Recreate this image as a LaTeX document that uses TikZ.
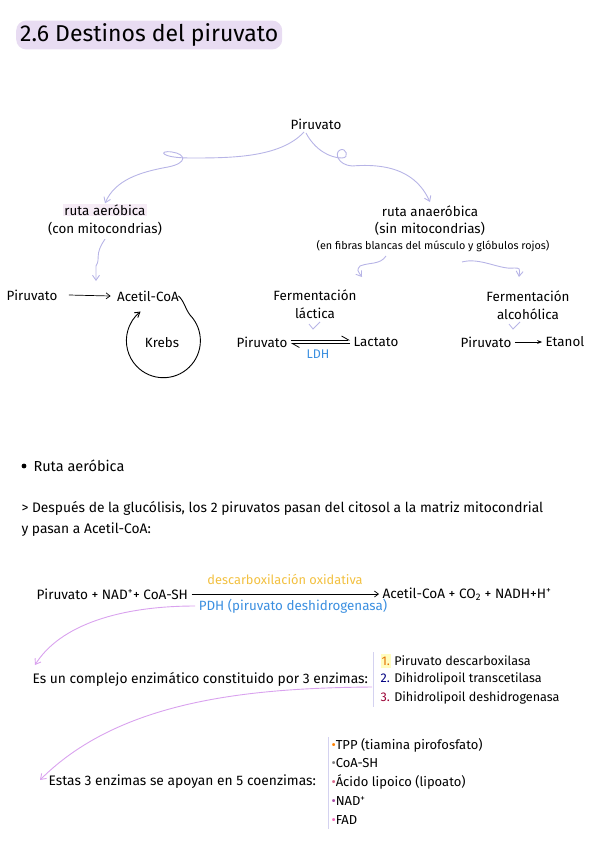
\documentclass[tikz,border=0pt]{standalone}
\usepackage{fontspec}
\setmainfont{Fira Sans}
\usetikzlibrary{arrows.meta}
\definecolor{lav}{HTML}{B7B4E6}
\definecolor{pinkv}{HTML}{D9A2EE}
\definecolor{titlebg}{HTML}{E8DCF2}
\definecolor{hlpink}{HTML}{F6ECF6}
\definecolor{ldhblue}{HTML}{3B8FE0}
\definecolor{descor}{HTML}{F2C040}
\newcommand{\fsz}[1]{\fontsize{#1}{#1}\selectfont}

\begin{document}
\begin{tikzpicture}[x=1pt,y=-1pt,
  lavarrow/.style={lav,line width=0.9pt,-{Straight Barb[length=5pt,width=7pt]}},
  pinkarrow/.style={pinkv,line width=0.9pt,-{Straight Barb[length=5pt,width=7pt]}},
  txt/.style={font=\fsz{13.4}},
  body/.style={font=\fsz{13.8},anchor=west}]
\useasboundingbox (0,0) rectangle (599,848);
% titulo
\node[fill=titlebg,rounded corners=10pt,inner xsep=4pt,inner ysep=3pt,anchor=west,font=\fsz{23}] (title) at (16,35) {2.6 Destinos del piruvato};
% esquema superior
\node[txt] (piru) at (316,124) {Piruvato};
\node[txt,fill=hlpink,inner sep=1pt] (aer) at (105,210) {ruta aeróbica};
\node[txt] (aercon) at (105,229) {(con mitocondrias)};
\node[txt] (anaer) at (430,211) {ruta anaeróbica};
\node[txt] (anaersin) at (430,229) {(sin mitocondrias)};
\node[font=\fsz{10.8}] (fibras) at (433,246) {(en fibras blancas del músculo y glóbulos rojos)};
\draw[lavarrow] (304,132) .. controls (280,158) and (230,158) .. (190,158) .. controls (160,158) and (158,150) .. (172,152) .. controls (186,154) and (188,163) .. (168,167) .. controls (140,172) and (115,180) .. (aer.north);
\draw[lavarrow] (306,133) .. controls (315,150) and (330,158) .. (342,158) .. controls (350,158) and (346,147) .. (340,150) .. controls (334,153) and (338,165) .. (352,166) .. controls (400,162) and (420,180) .. (anaer.north);
% ruta aerobica
\node[txt] (p1) at (32,295) {Piruvato};
\node[txt] (acetil) at (148,296) {Acetil-CoA};
\node[txt] (krebs) at (162,343) {Krebs};
\coordinate (aerend) at (96,281);
\coordinate (krebsin) at (190,315);
\draw[lavarrow] (aercon.south) .. controls (94,255) and (101,258) .. (96,266) -- (aerend);
\draw[-{Straight Barb[length=4pt,width=6pt]},line width=0.7pt] (p1.east) ++(8,0) -- ([xshift=-3pt]acetil.west);
\draw[line width=0.9pt,-{Straight Barb[length=5pt,width=6pt]}] ([xshift=-4pt]acetil.east) .. controls (183,299) and (186,310) .. (krebsin) arc[start angle=-44,end angle=232,radius=37];
% ruta anaerobica
\node[txt,align=center] (ferml) at (315,304) {Fermentación\\[5pt]láctica};
\node[txt,align=center] (ferma) at (528,305) {Fermentación\\[5pt]alcohólica};
\coordinate (lacend) at (362,277);
\coordinate (alcend) at (519,277);
\draw[lavarrow] (386,256) .. controls (380,265) and (370,262) .. (360,266) .. controls (357,270) .. (lacend);
\draw[lavarrow] (462,262) .. controls (480,257) and (500,270) .. (514,268) .. controls (520,268) .. (alcend);
\draw[lav,line width=0.8pt] (309,324) -- (313,329) -- (320,322);
\draw[lav,line width=0.8pt] (509,324) -- (513,329) -- (520,322);
\node[txt] (p2) at (262,342) {Piruvato};
\node[txt] (lactato) at (376,342) {Lactato};
\node[font=\fsz{12.5},text=ldhblue] (ldh) at (318,354) {LDH};
\draw[line width=0.8pt,-{Straight Barb[left,length=7pt,width=8pt]}] ([yshift=2pt]p2.east) -- ([yshift=2pt]lactato.west);
\draw[line width=0.8pt,-{Straight Barb[left,length=7pt,width=8pt]}] ([yshift=-1.5pt]lactato.west) -- ([yshift=-1.5pt]p2.east);
\node[txt] (p3) at (486,342) {Piruvato};
\node[txt] (etanol) at (565,342) {Etanol};
\draw[line width=0.7pt,-{Stealth[length=5pt]}] (p3.east) -- (etanol.west);
% parte inferior
\fill (24,466) circle (2.4pt);
\node[body,font=\fsz{14.5}] (ruta) at (30,466) {Ruta aeróbica};
\node[body] (despues) at (18,508) {> Después de la glucólisis, los 2 piruvatos pasan del citosol a la matriz mitocondrial};
\node[body] (ypasan) at (18,530) {y pasan a Acetil-CoA:};
\node[body,font=\fsz{13.6}] (react) at (33,594) {Piruvato + NAD\textsuperscript{+}+ CoA-SH};
\node[body,font=\fsz{13.6}] (prod) at (379,594) {Acetil-CoA + CO\textsubscript{2} + NADH+H\textsuperscript{+}};
\draw[line width=0.7pt,-{Straight Barb[length=4pt,width=6pt]}] (react.east) -- (prod.west);
\node[font=\fsz{12.8},text=descor] (desc) at (285,579) {descarboxilación oxidativa};
\node[font=\fsz{13.4},text=ldhblue] (pdh) at (293,606) {PDH (piruvato deshidrogenasa)};
\node[body] (complejo) at (29,679) {Es un complejo enzimático constituido por 3 enzimas:};
\node[body,font=\fsz{12.6}] (enz1) at (377,661) {\colorbox{yellow!25}{\kern-2pt\textcolor{orange!90!black}{1.}\kern-2pt} Piruvato descarboxilasa};
\node[body,font=\fsz{12.6}] (enz2) at (377,679) {\textcolor{blue!50!black}{2.} Dihidrolipoil transcetilasa};
\node[body,font=\fsz{12.6}] (enz3) at (377,698) {\textcolor{purple!80!black}{3.} Dihidrolipoil deshidrogenasa};
\draw[pinkarrow] (pdh.west) .. controls (120,606) and (60,625) .. (35,665);
\draw[lav!60,line width=0.8pt] (373,652) -- (373,707);
\node[body] (estas) at (45,782) {Estas 3 enzimas se apoyan en 5 coenzimas:};
\draw[pinkarrow] (372,687) .. controls (250,688) and (120,700) .. (40,780);
\draw[lav!60,line width=0.8pt] (328,737) -- (328,829);
\node[body,font=\fsz{13}] (co1) at (328,745) {\textcolor{orange}{•}TPP (tiamina pirofosfato)};
\node[body,font=\fsz{13}] (co2) at (328,763) {\textcolor{gray}{•}CoA-SH};
\node[body,font=\fsz{13}] (co3) at (328,782) {\textcolor{purple!60}{•}Ácido lipoico (lipoato)};
\node[body,font=\fsz{13}] (co4) at (328,801) {\textcolor{violet!70}{•}NAD\textsuperscript{+}};
\node[body,font=\fsz{13}] (co5) at (328,820) {\textcolor{magenta!60}{•}FAD};
\end{tikzpicture}
\end{document}
